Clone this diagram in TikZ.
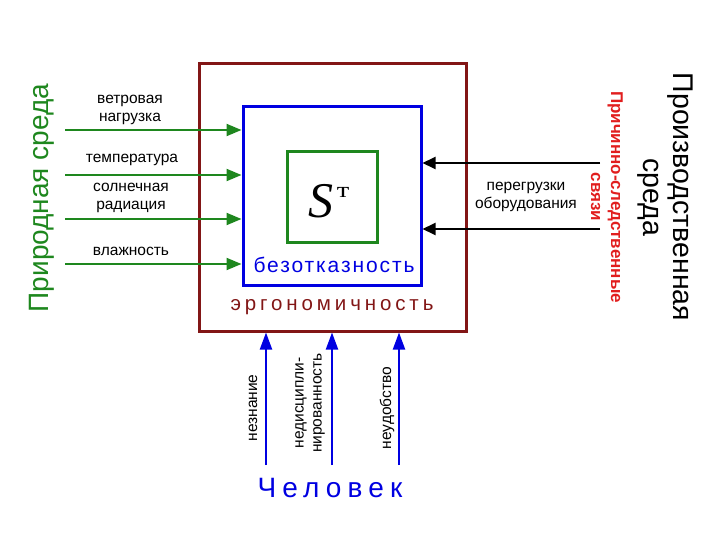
\documentclass[tikz,border=0pt]{standalone}
\usepackage{fontspec}
\setmainfont{Liberation Sans}
\newfontfamily\serifS{Liberation Serif}
\usetikzlibrary{arrows.meta}
\definecolor{maroon}{RGB}{130,22,22}
\definecolor{dgreen}{RGB}{30,135,30}
\definecolor{bblue}{RGB}{0,0,225}
\definecolor{rred}{RGB}{225,30,30}
\tikzset{
  garrow/.style={draw=dgreen, line width=2pt, -{Triangle[length=15pt,width=12pt]}},
  karrow/.style={draw=black, line width=2pt, -{Triangle[length=13pt,width=12pt]}},
  barrow/.style={draw=bblue, line width=2pt, -{Triangle[length=17pt,width=12pt]}},
  lbl/.style={font=\fontsize{15.5}{18}\selectfont, align=center, inner sep=0pt},
}
\begin{document}
\begin{tikzpicture}[x=1pt,y=-1pt]
\useasboundingbox (0,0) rectangle (720,540);
% boxes
\node[draw=maroon, line width=3pt, minimum width=267pt, minimum height=267pt, inner sep=0pt] (outer) at (332.5,197.5) {};
\node[draw=bblue, line width=3pt, minimum width=178pt, minimum height=178pt, inner sep=0pt] (inner) at (332,196) {};
\node[draw=dgreen, line width=3pt, minimum width=90pt, minimum height=90pt, inner sep=0pt] (core) at (332,197) {};
\node[inner sep=0pt] (S) at (321,201) {\serifS\itshape\fontsize{50}{50}\selectfont S};
\node[inner sep=0pt, xscale=1.3] (T) at (343,192) {\serifS\fontsize{22}{22}\selectfont т};
\node[inner sep=0pt, text=bblue] (bez) at (334,265) {\fontsize{21}{24}\selectfont\addfontfeatures{LetterSpace=9}безотказность};
\node[inner sep=0pt, text=maroon] (erg) at (332,307) {\fontsize{20.5}{24}\selectfont\addfontfeatures{LetterSpace=19}эргономичность};
% left: natural environment
\node[rotate=90, text=dgreen, inner sep=0pt] (nat) at (42,198) {\fontsize{28}{32}\selectfont Природная среда};
\coordinate (g1) at (65,130);
\coordinate (g2) at (65,175);
\coordinate (g3) at (65,219);
\coordinate (g4) at (65,264);
\draw[garrow] (g1) -- (g1 -| inner.west);
\draw[garrow] (g2) -- (g2 -| inner.west);
\draw[garrow] (g3) -- (g3 -| inner.west);
\draw[garrow] (g4) -- (g4 -| inner.west);
\node[lbl] (l1) at (130,110) {ветровая\\нагрузка};
\node[lbl] (l2) at (132,160) {температура};
\node[lbl] (l3) at (131,198) {солнечная\\радиация};
\node[lbl] (l4) at (131,251) {влажность};
% right: production environment
\node[rotate=-90, inner sep=0pt, align=center, font=\fontsize{28.5}{30}\selectfont] (prod) at (665,197) {Производственная\\среда};
\node[rotate=-90, inner sep=0pt, align=center, text=rred, font=\fontsize{17}{20}\selectfont\bfseries] (cause) at (607,197) {Причинно-следственные\\связи};
\coordinate (k1) at (600,163);
\coordinate (k2) at (600,229);
\draw[karrow] (k1) -- (k1 -| inner.east);
\draw[karrow] (k2) -- (k2 -| inner.east);
\node[lbl] (lk) at (526,197) {перегрузки\\оборудования};
% bottom: human
\node[text=bblue, inner sep=0pt] (hum) at (330,488) {\fontsize{28}{30}\selectfont\addfontfeatures{LetterSpace=22}Человек};
\coordinate (b1) at (266,465);
\coordinate (b2) at (332,465);
\coordinate (b3) at (399,465);
\draw[barrow] (b1) -- (b1 |- outer.south);
\draw[barrow] (b2) -- (b2 |- outer.south);
\draw[barrow] (b3) -- (b3 |- outer.south);
\node[lbl, rotate=90] (lb1) at (253,408) {незнание};
\node[lbl, rotate=90] (lb2) at (310,403) {недисципли-\\нированность};
\node[lbl, rotate=90] (lb3) at (387,408) {неудобство};
\end{tikzpicture}
\end{document}
